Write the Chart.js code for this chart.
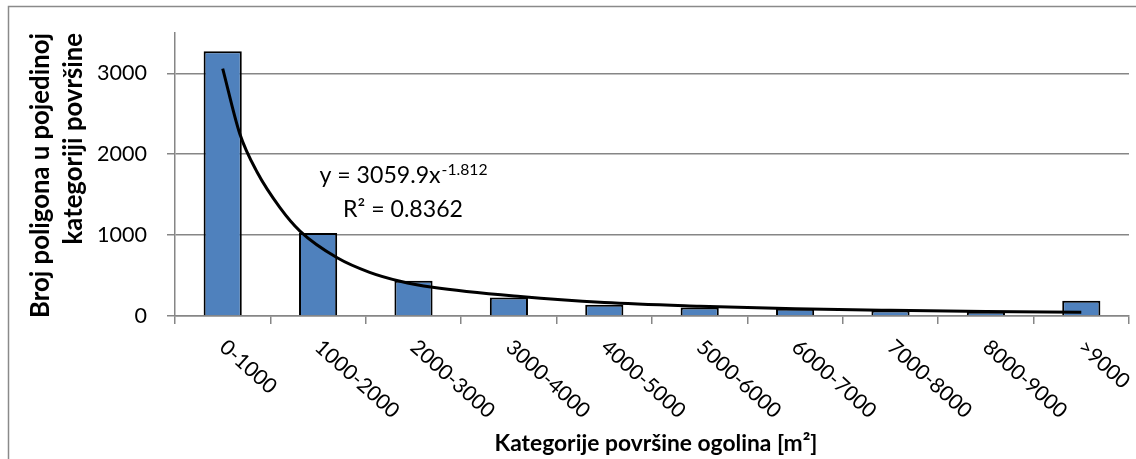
<!DOCTYPE html>
<html lang="hr">
<head>
<meta charset="UTF-8">
<title>Broj poligona po kategoriji površine</title>
<script src="https://cdn.jsdelivr.net/npm/chart.js@4.4.0/dist/chart.umd.min.js"></script>
<style>
    body { margin: 0; background: #fff; }
    #wrap { width: 1136px; height: 459px; position: relative; }
</style>
</head>
<body>
<div id="wrap"><canvas id="myChart"></canvas></div>
<script>
// data
var categories = ['0-1000', '1000-2000', '2000-3000', '3000-4000', '4000-5000',
                  '5000-6000', '6000-7000', '7000-8000', '8000-9000', '>9000'];
var counts = [3275, 1025, 435, 230, 140, 105, 90, 68, 48, 190];

// trend curve (power fit), x = category index
var trendX = [0, 0.18, 0.36, 0.6, 0.81, 1.2, 1.54, 1.86, 2.2, 3.12, 4, 5, 6, 7, 8, 9];
var trendY = [3060, 2250, 1780, 1340, 1050, 720, 540, 430, 355, 240, 167, 122, 90, 70, 55, 45];

var yTicks = [0, 1000, 2000, 3000];
var yMax = 3500;

var yTitle = ['Broj poligona u pojedinoj', 'kategoriji površine'];
var xTitle = 'Kategorije površine ogolina [m²]';
var eqMain = 'y = 3059.9x';
var eqExp = '-1.812';
var eqR2 = 'R² = 0.8362';
var eqAt = { x: 1.89, y1: 1640, y2: 1230 };

var FONT = 'Lato, "Open Sans", sans-serif';
var GRID = '#868686';

// pick font sizes so text widths match the picture
var mctx = document.createElement('canvas').getContext('2d');
function fitSize(text, weight, target) {
    mctx.font = weight + ' 100px ' + FONT;
    return 100 * target / mctx.measureText(text).width;
}
var tickSize = fitSize('3000', 'normal', 50);
var catSize = fitSize('1000-2000', 'normal', 105);
var yTitleSize = fitSize(yTitle[0], 'bold', 285);
var xTitleSize = fitSize(xTitle, 'bold', 323);
var eqSize = fitSize(eqR2, 'normal', 120);

var decor = {
    id: 'decor',
    beforeDraw: function(chart) {
        var ctx = chart.ctx;
        ctx.save();
        ctx.fillStyle = '#fff';
        ctx.fillRect(0, 0, chart.width, chart.height);
        ctx.strokeStyle = '#8a8a8a';
        ctx.lineWidth = 1.5;
        ctx.strokeRect(8.5, 6.5, 1300, 600);
        ctx.restore();
    },
    afterDraw: function(chart) {
        var ctx = chart.ctx;
        var xs = chart.scales.x, ys = chart.scales.y;
        var area = chart.chartArea;
        ctx.save();
        ctx.fillStyle = '#000';

        // slanted category labels
        ctx.font = 'normal ' + catSize + 'px ' + FONT;
        ctx.textAlign = 'left';
        ctx.textBaseline = 'middle';
        categories.forEach(function(c, i) {
            ctx.save();
            ctx.translate(xs.getPixelForValue(i), area.bottom + 28);
            ctx.rotate(42 * Math.PI / 180);
            ctx.fillText(c, 0, 0);
            ctx.restore();
        });

        // axis titles
        ctx.font = 'bold ' + xTitleSize + 'px ' + FONT;
        ctx.textAlign = 'center';
        ctx.textBaseline = 'alphabetic';
        ctx.fillText(xTitle, (area.left + area.right) / 2 + 4, 451);

        ctx.font = 'bold ' + yTitleSize + 'px ' + FONT;
        ctx.textAlign = 'right';
        [49, 82].forEach(function(bx, i) {
            ctx.save();
            ctx.translate(bx, 33);
            ctx.rotate(-Math.PI / 2);
            ctx.fillText(yTitle[i], 0, 0);
            ctx.restore();
        });

        // trendline equation
        var cx = xs.getPixelForValue(eqAt.x);
        ctx.font = 'normal ' + eqSize + 'px ' + FONT;
        var wMain = ctx.measureText(eqMain).width;
        ctx.font = 'normal ' + (eqSize * 0.68) + 'px ' + FONT;
        var wExp = ctx.measureText(eqExp).width;
        var x0 = cx - (wMain + wExp) / 2;
        var b1 = ys.getPixelForValue(eqAt.y1);
        ctx.textAlign = 'left';
        ctx.font = 'normal ' + eqSize + 'px ' + FONT;
        ctx.fillText(eqMain, x0, b1);
        ctx.font = 'normal ' + (eqSize * 0.68) + 'px ' + FONT;
        ctx.fillText(eqExp, x0 + wMain + 1, b1 - eqSize * 0.36);
        ctx.font = 'normal ' + eqSize + 'px ' + FONT;
        ctx.textAlign = 'center';
        ctx.fillText(eqR2, cx, ys.getPixelForValue(eqAt.y2));

        ctx.restore();
    }
};

var barData = counts.map(function(v, i) { return { x: i, y: v }; });
var trendData = trendX.map(function(x, i) { return { x: x, y: trendY[i] }; });

var ctx = document.getElementById('myChart').getContext('2d');
var myChart = new Chart(ctx, {
    type: 'bar',
    data: {
        datasets: [{
            type: 'line',
            label: 'Power trend',
            data: trendData,
            borderColor: '#000',
            borderWidth: 3,
            pointRadius: 0,
            cubicInterpolationMode: 'monotone',
            fill: false,
            order: 1
        }, {
            label: 'Broj poligona',
            data: barData,
            backgroundColor: '#4F81BD',
            borderColor: '#000',
            borderWidth: 2,
            grouped: false,
            barPercentage: 0.4,
            categoryPercentage: 1.0,
            order: 2
        }]
    },
    options: {
        responsive: true,
        maintainAspectRatio: false,
        animation: false,
        layout: { padding: { top: 23, right: 7, left: 0, bottom: 0 } },
        plugins: {
            legend: { display: false },
            tooltip: { enabled: false }
        },
        scales: {
            x: {
                type: 'linear',
                min: -0.5,
                max: categories.length - 0.5,
                offset: false,
                afterBuildTicks: function(s) {
                    // tick marks sit on category boundaries
                    s.ticks = categories.concat(['']).map(function(c, i) { return { value: i - 0.5 }; });
                },
                grid: {
                    offset: false,
                    drawOnChartArea: false,
                    drawTicks: true,
                    tickLength: 8,
                    color: GRID,
                    lineWidth: 1.5
                },
                border: { display: true, color: GRID, width: 1.5 },
                ticks: { display: false, autoSkip: false },
                afterFit: function(s) { s.height = 143; }
            },
            y: {
                min: 0,
                max: yMax,
                afterBuildTicks: function(s) {
                    s.ticks = yTicks.map(function(v) { return { value: v }; });
                },
                grid: { color: GRID, lineWidth: 1.5, tickLength: 8 },
                border: { display: true, color: GRID, width: 1.5 },
                ticks: {
                    color: '#000',
                    padding: 20,
                    font: { family: FONT, size: tickSize },
                    callback: function(v) { return String(v); }
                },
                afterFit: function(s) { s.width = 175; }
            }
        }
    },
    plugins: [decor]
});
</script>
</body>
</html>
